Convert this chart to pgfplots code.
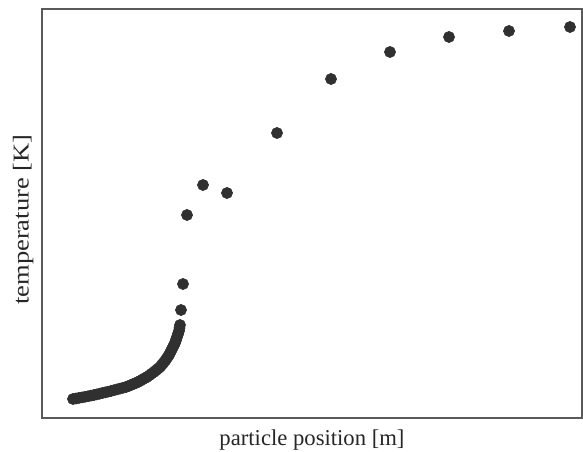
\documentclass[border=0pt]{standalone}
\usepackage{fontspec}
\setmainfont{Liberation Serif}
\usepackage{pgfplots}
\pgfplotsset{compat=1.18}
\definecolor{dotgray}{RGB}{48,48,48}
\definecolor{framegray}{RGB}{90,90,90}

\begin{document}
\begin{tikzpicture}
  \begin{axis}[
    scale only axis,
    width=405pt,
    height=306.75pt,
    xmin=0, xmax=540,
    ymin=0, ymax=409,
    xtick=\empty,
    ytick=\empty,
    axis line style={framegray, line width=0.9pt},
    xlabel={particle position [m]},
    ylabel={temperature [K]},
    label style={text=black!85},
    xlabel style={font=\fontsize{17}{19}\selectfont,
      at={(axis description cs:0.5,0)}, anchor=base, yshift=-20.5pt},
    ylabel style={font=\fontsize{17}{19}\selectfont, xscale=1.17,
      at={(axis description cs:0,0.5)}, anchor=base, yshift=10pt, xshift=-4pt},
  ]
    % dense part near the start of the bed
    \addplot[only marks, mark=*, mark size=4.2pt, dotgray,
      mark options={draw=dotgray, fill=dotgray}] coordinates {
      (31,19) (34,19.5) (37,20.1) (40,20.6) (43,21.2) (46,21.7) (49,22.4) (52,23)
      (54.8,23.6) (57.6,24.3) (60.4,25) (63.2,25.6) (66,26.3) (69,27)
      (72,27.8) (75,28.6) (78,29.4) (81,30.2) (84,31)
      (86.4,31.9) (88.8,32.9) (91.2,33.9) (93.6,34.9) (96,36)
      (98.2,37.2) (100.5,38.5) (102.8,39.8) (105,41)
      (107.3,42.6) (109.6,44.3) (112,46)
      (114,47.7) (116,49.3) (118,51)
      (119.7,53) (121.3,55) (123,57)
      (124.3,59) (125.7,61) (127,63)
      (128,65) (129,67) (130,69) (131,71) (132,73) (133,75)
      (133.7,77) (134.3,79) (135,81) (135.7,83) (136.3,85) (137,87)
      (137.5,90) (138,93)
      (139,108) (141,134) (145,203) (161,233) (185,225)
      (235,285) (289,339) (348,366) (407,381) (467,387) (528,391)
    };
  \end{axis}
  \pgfresetboundingbox
  \path (current axis.south west) ++(-31.5pt,-25.5pt) rectangle ++(437.25pt,339pt);
\end{tikzpicture}
\end{document}
